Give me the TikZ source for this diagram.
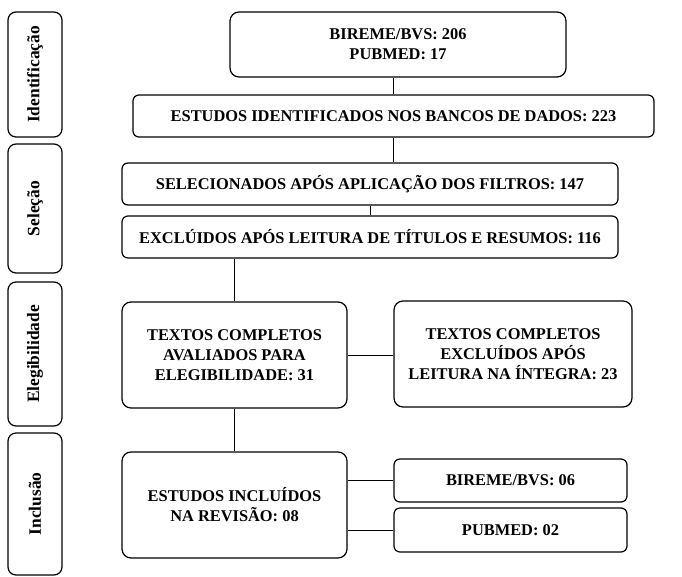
\documentclass[tikz,border=0pt]{standalone}
\usepackage{fontspec}
\setmainfont{Liberation Serif}
\usepackage{xcolor}
\usepackage{tikz}
\usetikzlibrary{calc}

\begin{document}
\begin{tikzpicture}[x=1pt, y=-1pt,
    etapa/.style={draw, line width=1.2pt, rounded corners=9pt, fill=white,
      inner sep=0pt, align=center, font=\bfseries\fontsize{16.4}{20}\selectfont},
    menor/.style={etapa, rounded corners=6pt},
    fase/.style={draw, line width=1.2pt, rounded corners=8pt, inner sep=0pt,
      minimum width=54pt},
    rotulo/.style={rotate=90, font=\bfseries\fontsize{17.4}{20}\selectfont},
    liga/.style={line width=0.7pt}]
    \useasboundingbox (0,0) rectangle (682,576);
    % fases
    \node[fase, minimum height=125pt] (fid) at (35,74.5) {};
    \node[rotulo] (tid) at (fid) {Identificação};
    \node[fase, minimum height=129pt] (fsel) at (35,208.5) {};
    \node[rotulo] (tsel) at (fsel) {Seleção};
    \node[fase, minimum height=144pt] (fel) at (35,354) {};
    \node[rotulo] (tel) at (fel) {Elegibilidade};
    \node[fase, minimum height=142pt] (finc) at (35,504) {};
    \node[rotulo] (tinc) at (finc) {Inclusão};
    % caixas
    \node[etapa, minimum width=336pt, minimum height=65pt] (bases) at (398,44.5)
      {BIREME/BVS: 206\\PUBMED: 17};
    \node[menor, minimum width=521pt, minimum height=42pt] (ident) at (393.5,116)
      {ESTUDOS IDENTIFICADOS NOS BANCOS DE DADOS: 223};
    \node[menor, minimum width=496pt, minimum height=42pt] (sel) at (370,184)
      {SELECIONADOS APÓS APLICAÇÃO DOS FILTROS: 147};
    \node[menor, minimum width=496pt, minimum height=42pt] (excl) at (370,237)
      {EXCLÚIDOS APÓS LEITURA DE TÍTULOS E RESUMOS: 116};
    \node[etapa, minimum width=225pt, minimum height=106pt] (aval) at (234.5,355)
      {TEXTOS COMPLETOS\\AVALIADOS PARA\\ELEGIBILIDADE: 31};
    \node[etapa, minimum width=238pt, minimum height=106pt] (exint) at (513,354)
      {TEXTOS COMPLETOS\\EXCLUÍDOS APÓS\\LEITURA NA ÍNTEGRA: 23};
    \node[etapa, minimum width=225pt, minimum height=106pt] (incl) at (234.5,505)
      {ESTUDOS INCLUÍDOS\\NA REVISÃO: 08};
    \node[menor, minimum width=233pt, minimum height=43pt] (bvs) at (510.5,480.5)
      {BIREME/BVS: 06};
    \node[menor, minimum width=233pt, minimum height=44pt] (pub) at (510.5,530)
      {PUBMED: 02};
    % ligacoes
    \draw[liga] (ident.north) -- (ident.north |- bases.south);
    \draw[liga] (ident.south) -- (ident.south |- sel.north);
    \draw[liga] (sel.south) -- (excl.north);
    \draw[liga] (aval.north) -- (aval.north |- excl.south);
    \draw[liga] (aval.east) -- (aval.east -| exint.west);
    \draw[liga] (aval.south) -- (incl.north);
    \draw[liga] (bvs.west) -- (bvs.west -| incl.east);
    \draw[liga] (pub.west) -- (pub.west -| incl.east);
\end{tikzpicture}
\end{document}
